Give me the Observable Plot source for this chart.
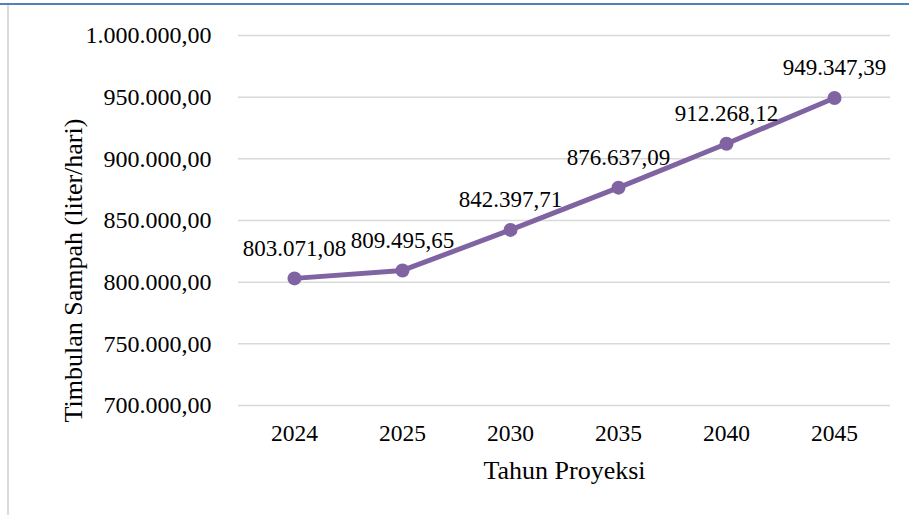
<!DOCTYPE html>
<html>
<head>
<meta charset="utf-8">
<script src="https://cdn.jsdelivr.net/npm/d3@7"></script>
<script src="https://cdn.jsdelivr.net/npm/@observablehq/plot@0.6"></script>
<style>
  html, body { margin: 0; padding: 0; background: #fff; }
  #wrap { position: relative; width: 909px; height: 515px; overflow: hidden; background: #fff; }
  #wrap svg { position: absolute; left: 0; top: 0; }
  #wrap svg, #wrap svg text { font-family: "Liberation Serif", "Times New Roman", serif !important; font-variant: normal !important; }
  .topline { position: absolute; left: 0; top: 3px; width: 909px; height: 2px; background: #4F81BD; }
  .leftline { position: absolute; left: 7px; top: 5px; width: 2px; height: 510px; background: #d9d9d9; }
</style>
</head>
<body>
<div id="wrap">
  <div class="topline"></div>
  <div class="leftline"></div>
</div>
<script>
const years = ["2024", "2025", "2030", "2035", "2040", "2045"];
const values = [803071.08, 809495.65, 842397.71, 876637.09, 912268.12, 949347.39];
const yTicks = [700000, 750000, 800000, 850000, 900000, 950000, 1000000];
const xTitle = "Tahun Proyeksi";
const yTitle = "Timbulan Sampah (liter/hari)";

const data = years.map((y, i) => ({year: y, value: values[i]}));
const loc = d3.formatLocale({decimal: ",", thousands: ".", grouping: [3], currency: ["", ""]});
const fmt = loc.format(",.2f");
const purple = "#8064A2";

const chart = Plot.plot({
  width: 909,
  height: 515,
  marginLeft: 238,
  marginRight: 19,
  marginTop: 35,
  marginBottom: 110,
  style: {color: "#000", background: "transparent", fontSize: "23px"},
  x: {type: "point", domain: years, padding: 0.5},
  y: {domain: [700000, 1000000]},
  marks: [
    Plot.gridY(yTicks, {stroke: "#d9d9d9", strokeOpacity: 1, strokeWidth: 1.5}),
    Plot.axisY(yTicks, {tickSize: 0, tickPadding: 27, tickFormat: fmt, label: null, fill: "#000", fontSize: 24}),
    Plot.axisX({tickSize: 0, tickPadding: 19, label: null, fill: "#000", fontSize: 23.5}),
    Plot.line(data, {x: "year", y: "value", stroke: purple, strokeWidth: 5}),
    Plot.dot(data, {x: "year", y: "value", r: 7, fill: purple, stroke: null}),
    Plot.text(data, {x: "year", y: "value", text: d => fmt(d.value), dy: -30, fill: "#000", lineAnchor: "middle", fontSize: 23}),
    Plot.text([xTitle], {frameAnchor: "bottom", dy: 65, lineAnchor: "middle", textAnchor: "middle", fill: "#000", fontSize: 26}),
    Plot.text([yTitle], {frameAnchor: "left", dx: -165, dy: 50, rotate: -90, lineAnchor: "middle", textAnchor: "middle", fill: "#000", fontSize: 26, style: "word-spacing: 5px"})
  ]
});
document.getElementById("wrap").appendChild(chart);
</script>
</body>
</html>
